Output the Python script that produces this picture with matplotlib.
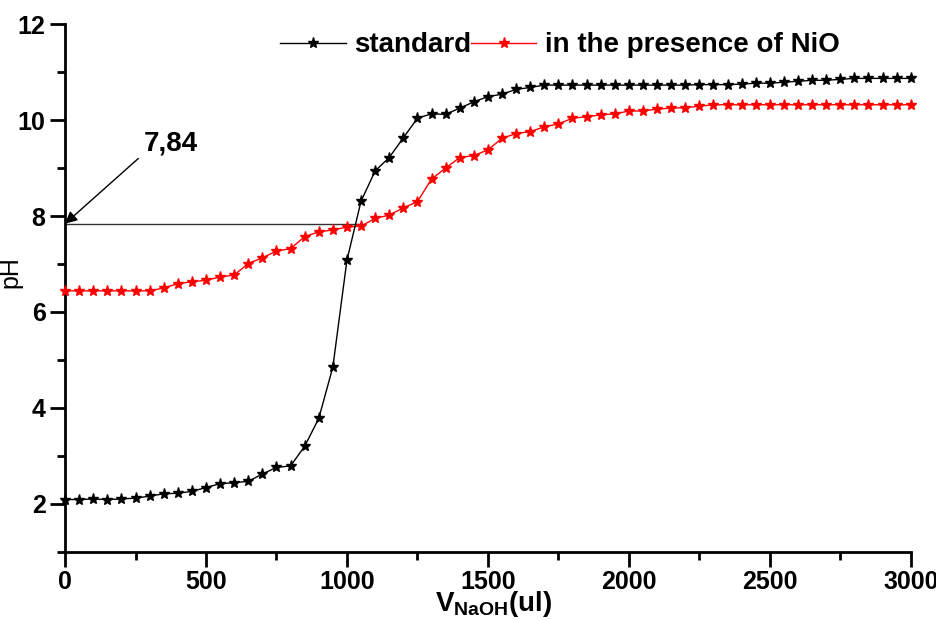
import numpy as np
import matplotlib
matplotlib.use("Agg")
import matplotlib.pyplot as plt
from matplotlib.ticker import MultipleLocator

plt.rcParams["font.family"] = ["Liberation Sans", "DejaVu Sans"]
plt.rcParams["mathtext.fontset"] = "custom"
plt.rcParams["mathtext.rm"] = "Liberation Sans"
plt.rcParams["mathtext.bf"] = "Liberation Sans:bold"

# titration volumes (ul), one reading every 50 ul
v_naoh = np.arange(0, 3001, 50)

ph_standard = [
    2.09, 2.09, 2.10, 2.09, 2.10, 2.12, 2.16, 2.21, 2.22, 2.26,
    2.34, 2.42, 2.44, 2.47, 2.62, 2.76, 2.79, 3.20, 3.78, 4.85,
    7.08, 8.31, 8.94, 9.22, 9.63, 10.04, 10.13, 10.12, 10.25, 10.38,
    10.49, 10.54, 10.64, 10.68, 10.73, 10.73, 10.73, 10.73, 10.73, 10.73,
    10.73, 10.73, 10.73, 10.73, 10.73, 10.74, 10.74, 10.74, 10.75, 10.77,
    10.77, 10.79, 10.81, 10.83, 10.83, 10.85, 10.87, 10.87, 10.87, 10.87,
    10.87,
]

ph_nio = [
    6.44, 6.44, 6.44, 6.44, 6.44, 6.44, 6.44, 6.50, 6.59, 6.63,
    6.66, 6.73, 6.77, 7.01, 7.13, 7.27, 7.32, 7.57, 7.67, 7.71,
    7.77, 7.79, 7.95, 8.02, 8.17, 8.30, 8.77, 9.00, 9.22, 9.26,
    9.38, 9.62, 9.72, 9.76, 9.86, 9.92, 10.04, 10.07, 10.11, 10.13,
    10.19, 10.19, 10.23, 10.25, 10.26, 10.29, 10.32, 10.32, 10.32, 10.32,
    10.32, 10.32, 10.32, 10.32, 10.32, 10.32, 10.32, 10.32, 10.32, 10.32,
    10.32,
]

# equivalence reading marked on the plot
ph_mark = 7.84
v_mark = 1040

fig = plt.figure(figsize=(9.37, 6.2), dpi=100)
ax = fig.add_axes([0.0694, 0.110, 0.9026, 0.851])

ax.plot(v_naoh, ph_standard, color="black", lw=1.0, marker="*", ms=8,
        label="standard", clip_on=False, zorder=4)
ax.plot(v_naoh, ph_nio, color="red", lw=1.0, marker="*", ms=8,
        label="in the presence of NiO", clip_on=False, zorder=3)

ax.plot([0, v_mark], [ph_mark, ph_mark], color="#333333", lw=1.0, zorder=2)
ax.annotate("", xy=(0, ph_mark), xytext=(260, 9.2),
            arrowprops=dict(arrowstyle="-|>", color="black", lw=1.0,
                            mutation_scale=18, shrinkA=0, shrinkB=0),
            annotation_clip=False)
ax.text(280, 9.52, "7,84", fontsize=20, fontweight="bold", va="center",
        ha="left")

ax.set_xlim(0, 3000)
ax.set_ylim(1, 12)
ax.xaxis.set_major_locator(MultipleLocator(500))
ax.xaxis.set_minor_locator(MultipleLocator(250))
ax.yaxis.set_major_locator(MultipleLocator(2))
ax.yaxis.set_minor_locator(MultipleLocator(1))

for side in ("top", "right"):
    ax.spines[side].set_visible(False)
for side in ("left", "bottom"):
    ax.spines[side].set_linewidth(2)

ax.tick_params(which="major", direction="out", length=11, width=2,
               labelsize=18, pad=3)
ax.tick_params(axis="x", which="major", pad=2)
ax.tick_params(which="minor", direction="out", length=6, width=2)
for lab in ax.get_xticklabels() + ax.get_yticklabels():
    lab.set_fontweight("bold")

ax.set_ylabel("pH", fontsize=18)
ax.yaxis.set_label_coords(-0.05, 0.53)
ax.set_xlabel(r"$\mathbf{V_{NaOH}}$(ul)", fontsize=20, fontweight="bold",
              va="top")
ax.xaxis.set_label_coords(0.507, -0.071)

ax.legend(loc="center", bbox_to_anchor=(0.585, 0.96), ncol=2,
          frameon=False, handlelength=2.35, handletextpad=0.3,
          columnspacing=0.0, borderpad=0, prop={"weight": "bold", "size": 20})

fig.savefig("out.png", dpi=100)
